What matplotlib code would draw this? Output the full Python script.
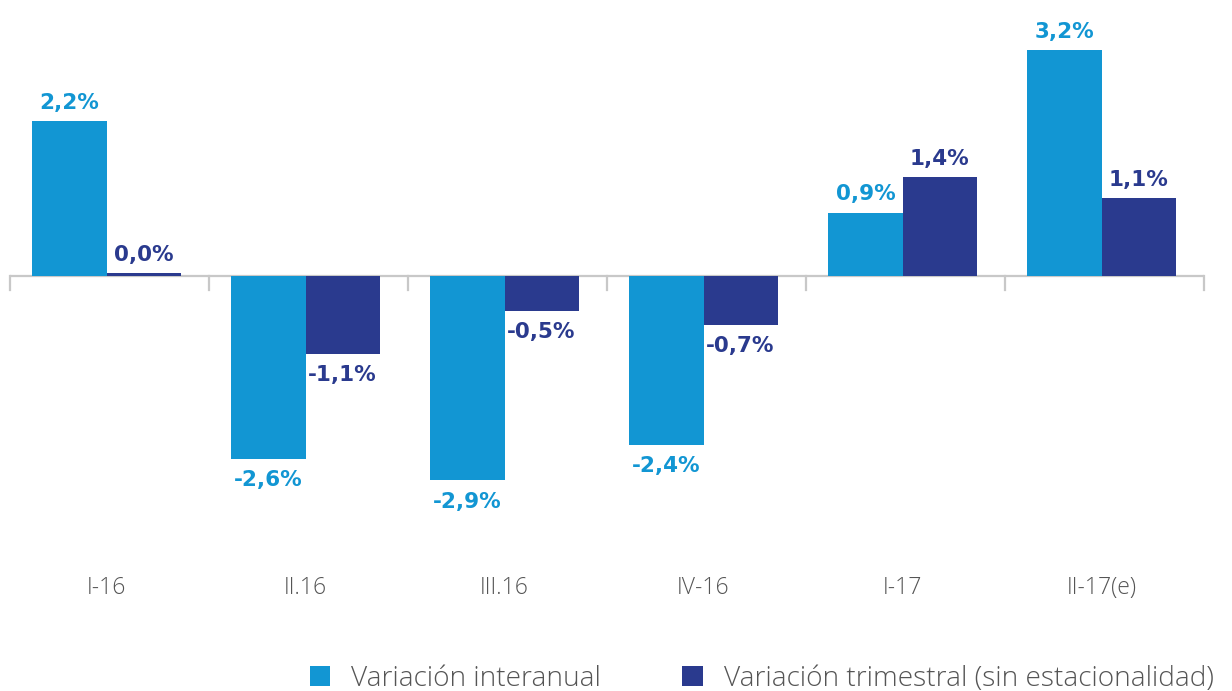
import matplotlib
matplotlib.use("Agg")
import matplotlib.pyplot as plt
import numpy as np

categories = ["I-16", "II.16", "III.16", "IV-16", "I-17", "II-17(e)"]
interanual = [2.2, -2.6, -2.9, -2.4, 0.9, 3.2]
trimestral = [0.04, -1.1, -0.5, -0.7, 1.4, 1.1]
series_names = ["Variación interanual", "Variación trimestral (sin estacionalidad)"]

c_light = "#1296D3"
c_dark = "#2A3A8E"

W, H = 1232, 691
fig = plt.figure(figsize=(W / 100, H / 100), dpi=100)
ax = fig.add_axes([10 / W, (H - 560) / H, 1194 / W, 560 / H])

x = np.arange(len(categories))
bw = 0.372
ax.bar(x - bw / 2 - 0.015, interanual, bw, color=c_light, label=series_names[0])
ax.bar(x + bw / 2 - 0.015, trimestral, bw, color=c_dark, label=series_names[1])

scale = 70.5
ax.set_xlim(-0.5, len(categories) - 0.5)
ax.set_ylim(-284 / scale, 276 / scale)

for s in ["top", "right", "left", "bottom"]:
    ax.spines[s].set_visible(False)
ax.axhline(0, color="#c8c8c8", lw=1.6, zorder=0)
for b in np.arange(-0.5, len(categories), 1.0):
    ax.plot([b, b], [0, -0.2], color="#c8c8c8", lw=1.6, zorder=0, clip_on=False)
ax.set_yticks([])
ax.set_xticks([])

def fmt(v):
    return f"{v:.1f}".replace(".", ",") + "%"

font = "DejaVu Sans"
for vals, off, col in [(interanual, -bw / 2 - 0.015, c_light), (trimestral, bw / 2 - 0.015, c_dark)]:
    for xi, v in zip(x, vals):
        if v >= 0:
            ax.annotate(fmt(v), (xi + off, v), xytext=(0, 6), textcoords="offset points",
                        ha="center", va="bottom", color=col, fontsize=15.5, fontweight="bold", family=font)
        else:
            ax.annotate(fmt(v), (xi + off, v), xytext=(0, -8), textcoords="offset points",
                        ha="center", va="top", color=col, fontsize=15.5, fontweight="bold", family=font)

for xi, c in zip(x, categories):
    ax.text(xi - 0.015, -312 / scale, c, ha="center", va="center", color="#555555",
            fontsize=16.5, family="Open Sans", fontweight="light")

leg = fig.legend(loc="center left", bbox_to_anchor=(310 / W, 12 / H), ncol=2, frameon=False,
                 prop={"family": "Open Sans", "size": 20.2, "weight": "light"},
                 handlelength=0.72, handleheight=0.72, handletextpad=0.75, columnspacing=2.9,
                 borderpad=0, borderaxespad=0)
for t in leg.get_texts():
    t.set_color("#555555")

fig.savefig("out.png", dpi=100)
